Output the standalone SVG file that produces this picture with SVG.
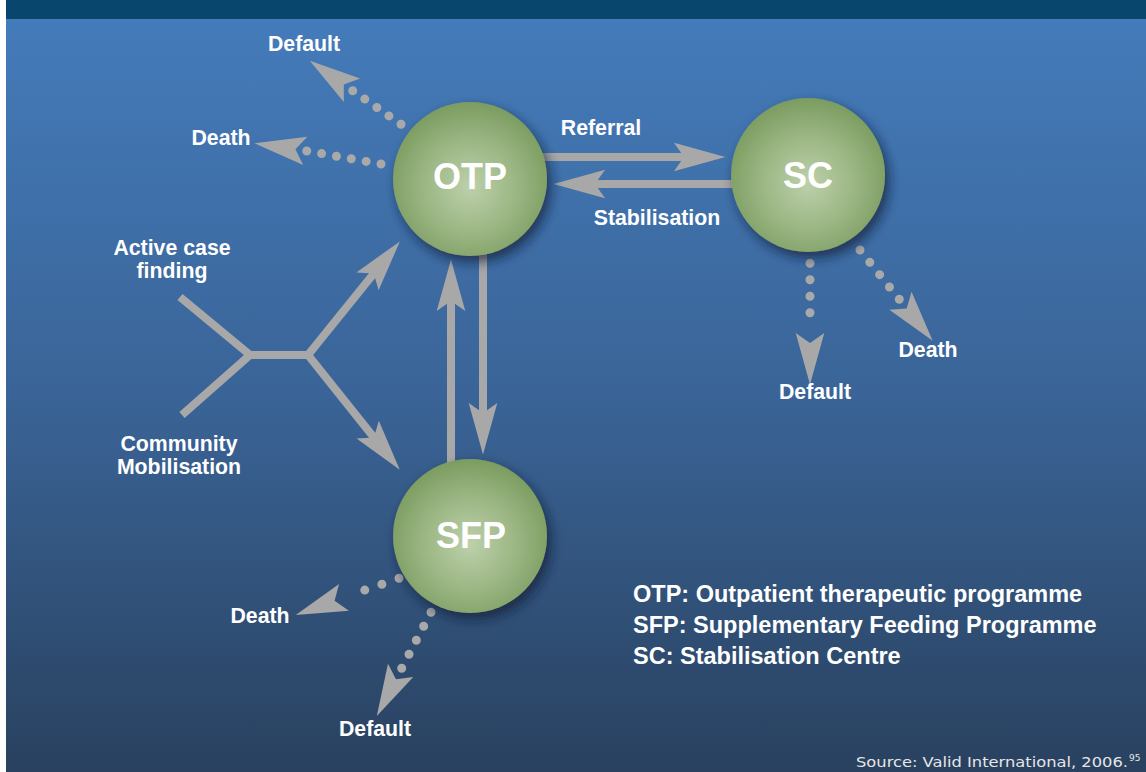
<svg xmlns="http://www.w3.org/2000/svg" width="1146" height="772" viewBox="0 0 1146 772">
  <defs>
    <linearGradient id="bg" x1="0" y1="0" x2="0" y2="1">
      <stop offset="0" stop-color="#447bba"/>
      <stop offset="0.5" stop-color="#3a6497"/>
      <stop offset="1" stop-color="#29415f"/>
    </linearGradient>
    <radialGradient id="ball" cx="0.5" cy="0.55" r="0.55">
      <stop offset="0" stop-color="#bdd0ab"/>
      <stop offset="0.55" stop-color="#9bb683"/>
      <stop offset="1" stop-color="#7b9c60"/>
    </radialGradient>
    <filter id="shadow" x="-30%" y="-30%" width="170%" height="170%">
      <feDropShadow dx="4" dy="6" stdDeviation="6" flood-color="#0b1d36" flood-opacity="0.7"/>
    </filter>
    <marker id="ah" markerUnits="userSpaceOnUse" orient="auto" refX="7" refY="0" markerWidth="60" markerHeight="40" viewBox="-2 -12 42 24" overflow="visible">
      <path d="M0,-10 L36,0 L0,10 L7,0 Z" fill="#a8a8a8"/>
    </marker>
  </defs>
  <style>
    .lbl { font-family: "Liberation Sans", Arial, sans-serif; font-weight: bold; font-size: 21.3px; fill: #ffffff; text-anchor: middle; }
    .node-t { font-family: "Liberation Sans", Arial, sans-serif; font-weight: bold; font-size: 36px; fill: #ffffff; text-anchor: middle; }
    .legend { font-family: "Liberation Sans", Arial, sans-serif; font-weight: bold; font-size: 23.5px; fill: #ffffff; }
    .src { font-family: "DejaVu Sans", Verdana, sans-serif; font-size: 14px; fill: #e6e6e6; }
    .sup { font-family: "DejaVu Sans", Verdana, sans-serif; font-size: 9px; fill: #e6e6e6; }
    .stem { fill: none; stroke: #a8a8a8; stroke-width: 8; }
    .dots { fill: none; stroke: #a9a9a9; stroke-width: 9; stroke-linecap: round; }
    .tip { fill: none; stroke: none; }
    .ball { fill: url(#ball); filter: url(#shadow); }
  </style>

  <rect x="0" y="0" width="1146" height="772" fill="#ffffff"/>
  <rect x="6" y="19" width="1140" height="753" fill="url(#bg)"/>
  <rect x="6" y="0" width="1140" height="19" fill="#08466e"/>

  <g id="connectors">
    <!-- Referral / Stabilisation -->
    <path class="stem" d="M540,157 H684" marker-end="url(#ah)"/>
    <path class="stem" d="M736,184 H595" marker-end="url(#ah)"/>
    <!-- OTP <-> SFP -->
    <path class="stem" d="M483,250 V413" marker-end="url(#ah)"/>
    <path class="stem" d="M451,466 V301" marker-end="url(#ah)"/>
    <!-- Y shape -->
    <path class="stem" d="M180,297 L250,355 L182,415"/>
    <path class="stem" d="M248,355 H308"/>
    <path class="stem" d="M308,355 L373.8,273.6" marker-end="url(#ah)"/>
    <path class="stem" d="M308,355 L373.9,437.4" marker-end="url(#ah)"/>
    <!-- OTP Default -->
    <path class="dots" d="M401,124.3 L352.7,90.7" stroke-dasharray="0 14.7"/>
    <path class="tip" d="M352.7,90.7 L343.8,84.5" marker-end="url(#ah)"/>
    <!-- OTP Death -->
    <path class="dots" d="M381,164 L306.7,151" stroke-dasharray="0 15.08"/>
    <path class="tip" d="M306.7,151 L295.4,149.3" marker-end="url(#ah)"/>
    <!-- SC Default -->
    <path class="dots" d="M810,263.3 V329.3" stroke-dasharray="0 16.5"/>
    <path class="tip" d="M810,329.3 V343" marker-end="url(#ah)"/>
    <!-- SC Death -->
    <path class="dots" d="M860,250 L899.3,299.3" stroke-dasharray="0 15.76"/>
    <path class="tip" d="M899.3,299.3 L906.7,308.5" marker-end="url(#ah)"/>
    <!-- SFP Death -->
    <path class="dots" d="M399,578.3 L347.7,596" stroke-dasharray="0 18.1"/>
    <path class="tip" d="M347.7,596 L334.6,600.8" marker-end="url(#ah)"/>
    <!-- SFP Default -->
    <path class="dots" d="M431,612.3 L401.7,668.3" stroke-dasharray="0 15.8"/>
    <path class="tip" d="M401.7,668.3 L396,679.2" marker-end="url(#ah)"/>
  </g>

  <g id="node-otp">
    <circle class="ball" cx="470" cy="179" r="77"/>
    <text class="node-t" x="470" y="189">OTP</text>
  </g>
  <g id="node-sc">
    <circle class="ball" cx="808" cy="175" r="77"/>
    <text class="node-t" x="808" y="188">SC</text>
  </g>
  <g id="node-sfp">
    <circle class="ball" cx="470" cy="536" r="77"/>
    <text class="node-t" x="471" y="548">SFP</text>
  </g>

  <g id="labels">
    <text class="lbl" x="304" y="51">Default</text>
    <text class="lbl" x="221" y="145">Death</text>
    <text class="lbl" x="601" y="135">Referral</text>
    <text class="lbl" x="657" y="225">Stabilisation</text>
    <text class="lbl" x="172" y="255">Active case</text>
    <text class="lbl" x="172" y="278">finding</text>
    <text class="lbl" x="179" y="451">Community</text>
    <text class="lbl" x="179" y="474">Mobilisation</text>
    <text class="lbl" x="928" y="357">Death</text>
    <text class="lbl" x="815" y="399">Default</text>
    <text class="lbl" x="260" y="623">Death</text>
    <text class="lbl" x="375" y="736">Default</text>
  </g>

  <g id="legend">
    <text class="legend" x="633" y="602">OTP: Outpatient therapeutic programme</text>
    <text class="legend" x="633" y="633">SFP: Supplementary Feeding Programme</text>
    <text class="legend" x="633" y="664">SC: Stabilisation Centre</text>
  </g>

  <text class="src" x="856" y="767" textLength="272" lengthAdjust="spacingAndGlyphs">Source: Valid International, 2006.</text>
  <text class="sup" x="1129" y="761">95</text>
</svg>
